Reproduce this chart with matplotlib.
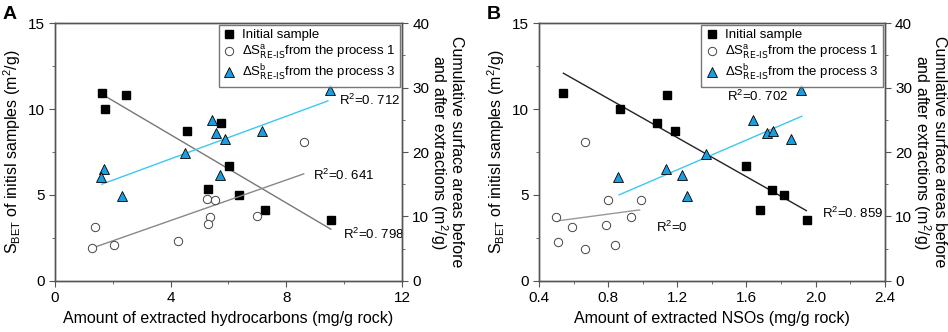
import numpy as np
import matplotlib
matplotlib.use("Agg")
import matplotlib.pyplot as plt
from matplotlib.ticker import MultipleLocator

plt.rcParams["font.family"] = ["Liberation Sans", "DejaVu Sans"]
plt.rcParams["mathtext.default"] = "regular"

# ---- panel A: extracted hydrocarbons ----
a_init_x = [1.62, 2.46, 1.73, 4.58, 5.75, 6.01, 5.30, 6.36, 7.25, 9.54]
a_init_y = [10.93, 10.83, 9.99, 8.75, 9.20, 6.71, 5.32, 5.01, 4.15, 3.57]
a_p1_x = [1.37, 1.27, 2.04, 4.25, 5.27, 5.52, 5.35, 5.28, 6.99, 8.60]
a_p1_y = [8.38, 5.07, 5.64, 6.16, 12.68, 12.57, 9.94, 8.80, 10.04, 21.63]
a_p3_x = [9.50, 5.42, 5.58, 7.17, 5.88, 4.50, 1.71, 1.59, 5.69, 2.32]
a_p3_y = [29.65, 24.99, 23.03, 23.23, 22.10, 19.87, 17.39, 16.20, 16.46, 13.25]
a_fit_init_x, a_fit_init_y = [1.62, 9.54], [10.87, 3.01]
a_fit_p1_x, a_fit_p1_y = [1.27, 8.60], [5.07, 16.61]
a_fit_p3_x, a_fit_p3_y = [1.62, 9.44], [15.01, 27.94]

# ---- panel B: extracted NSOs ----
b_init_x = [0.541, 1.142, 0.867, 1.081, 1.187, 1.596, 1.746, 1.818, 1.679, 1.951]
b_init_y = [10.93, 10.81, 9.99, 9.18, 8.75, 6.70, 5.30, 4.99, 4.13, 3.55]
b_p1_x = [0.496, 0.512, 0.591, 0.666, 0.666, 0.790, 0.799, 0.840, 0.932, 0.990]
b_p1_y = [9.99, 6.11, 8.33, 21.58, 5.02, 8.75, 12.52, 5.59, 9.88, 12.63]
b_p3_x = [1.918, 1.640, 1.719, 1.756, 1.860, 1.368, 1.135, 1.229, 0.857, 1.254]
b_p3_y = [29.65, 24.99, 23.03, 23.23, 21.99, 19.77, 17.34, 16.46, 16.20, 13.14]
b_fit_init_x, b_fit_init_y = [0.541, 1.947], [12.09, 4.09]
b_fit_p1_x, b_fit_p1_y = [0.506, 0.982], [9.31, 11.02]
b_fit_p3_x, b_fit_p3_y = [0.863, 1.920], [13.35, 25.56]

SPINE = "#555555"
TRI = "#1a9ee0"
CYAN = "#3cc8f0"
labels = ["Initial sample",
          r"ΔS$_{\text{RE-IS}}^{a}$from the process 1",
          r"ΔS$_{\text{RE-IS}}^{b}$from the process 3"]

fig = plt.figure(figsize=(9.48, 3.32), dpi=100)


def panel(rect, letter, xlabel, xlim, xmaj, xmin, xfmt, init, p1, p3,
          fits, notes):
    ax = fig.add_axes(rect)
    ax2 = ax.twinx()
    ax.set_xlim(*xlim); ax.set_ylim(0, 15); ax2.set_ylim(0, 40)
    ax.xaxis.set_major_locator(MultipleLocator(xmaj))
    ax.xaxis.set_minor_locator(MultipleLocator(xmin))
    ax.yaxis.set_major_locator(MultipleLocator(5))
    ax.yaxis.set_minor_locator(MultipleLocator(2.5))
    ax2.yaxis.set_major_locator(MultipleLocator(10))
    ax2.yaxis.set_minor_locator(MultipleLocator(5))
    ax.xaxis.set_major_formatter(xfmt)
    for a in (ax, ax2):
        for s in a.spines.values():
            s.set_color(SPINE); s.set_linewidth(1.0)
        a.tick_params(which="both", direction="out", colors=SPINE,
                      labelcolor="black", labelsize=11, top=False)
        a.tick_params(which="major", length=4)
        a.tick_params(which="minor", length=2.5)

    (fx, fy, fc), (gx, gy, gc), (hx, hy, hc) = fits
    ax.plot(fx, fy, color=fc, lw=1.0, zorder=2)
    ax2.plot(gx, gy, color=gc, lw=1.0, zorder=2)
    ax2.plot(hx, hy, color=hc, lw=1.0, zorder=2)

    h1, = ax.plot(init[0], init[1], ls="none", marker="s", ms=5.5,
                  mfc="black", mec="black", zorder=3)
    h2, = ax2.plot(p1[0], p1[1], ls="none", marker="o", ms=6,
                   mfc="white", mec="#444444", mew=0.7, zorder=3)
    h3, = ax2.plot(p3[0], p3[1], ls="none", marker="^", ms=6.5,
                   mfc=TRI, mec="black", mew=0.6, zorder=3)

    for (tx, ty, t) in notes:
        ax.text(tx, ty, t, fontsize=9.5, va="center", ha="left")

    ax.set_xlabel(xlabel, fontsize=11.5, labelpad=4)
    ax.set_ylabel(r"S$_{BET}$ of initisl samples (m$^{2}$/g)",
                  fontsize=11.5, labelpad=3)
    ax2.set_ylabel("Cumulative surface areas before\nand after extractions (m$^{2}$/g)",
                   fontsize=11.5, rotation=270, labelpad=25, linespacing=0.95)
    leg = ax2.legend([h1, h2, h3], labels, loc="upper right",
                     bbox_to_anchor=(1.0, 1.0), borderaxespad=0.15,
                     fontsize=9.5, frameon=True, fancybox=False,
                     edgecolor=SPINE, handlelength=1.0, handletextpad=0.5,
                     labelspacing=0.15, borderpad=0.3)
    leg.get_frame().set_linewidth(1.0)
    fig.text(rect[0] - 0.055, 0.955, letter, fontsize=14, fontweight="bold",
             ha="left", va="center")
    return ax


panel([0.058, 0.154, 0.366, 0.776], "A",
      "Amount of extracted hydrocarbons (mg/g rock)", (0, 12), 4, 2,
      plt.FuncFormatter(lambda v, p: "%d" % v),
      (a_init_x, a_init_y), (a_p1_x, a_p1_y), (a_p3_x, a_p3_y),
      [(a_fit_init_x, a_fit_init_y, "#777777"),
       (a_fit_p1_x, a_fit_p1_y, "#888888"),
       (a_fit_p3_x, a_fit_p3_y, CYAN)],
      [(9.81, 10.48, "R$^{2}$=0. 712"), (8.91, 6.13, "R$^{2}$=0. 641"),
       (9.96, 2.72, "R$^{2}$=0. 798")])

panel([0.5686, 0.154, 0.3646, 0.776], "B",
      "Amount of extracted NSOs (mg/g rock)", (0.4, 2.4), 0.4, 0.2,
      plt.FuncFormatter(lambda v, p: "%.1f" % v),
      (b_init_x, b_init_y), (b_p1_x, b_p1_y), (b_p3_x, b_p3_y),
      [(b_fit_init_x, b_fit_init_y, "#222222"),
       (b_fit_p1_x, b_fit_p1_y, "#999999"),
       (b_fit_p3_x, b_fit_p3_y, CYAN)],
      [(1.486, 10.73, "R$^{2}$=0. 702"), (2.039, 3.92, "R$^{2}$=0. 859"),
       (1.079, 3.14, "R$^{2}$=0")])

fig.savefig("out.png", dpi=100)
